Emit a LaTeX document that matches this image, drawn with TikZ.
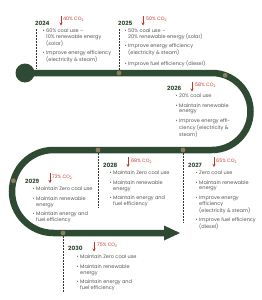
\documentclass[tikz,border=0pt]{standalone}
\usepackage{fontspec}
\setmainfont{Poppins}
\usetikzlibrary{arrows.meta, positioning, calc}
\definecolor{cRoad}{RGB}{46, 74, 50}
\definecolor{cDot}{RGB}{140, 124, 88}
\definecolor{cDrop}{RGB}{192, 57, 43}
\definecolor{tGray}{RGB}{85, 85, 85}
\newcommand{\bul}{\llap{\textbullet\hspace{1.4pt}}}

\begin{document}
\begin{tikzpicture}[
    x=1pt, y=-1pt,
    road/.style={draw=cRoad, line width=6.5pt},
    milestone/.style={circle, fill=cDot, inner sep=0pt, minimum size=4.8pt},
    leader/.style={draw=black!80, line width=0.8pt, dash pattern=on 1.6pt off 1.4pt},
    yearlbl/.style={anchor=west, inner sep=0pt, text=cRoad, font=\bfseries\fontsize{5.8}{6}\selectfont},
    co2/.style={anchor=west, inner sep=0pt, text=cDrop, font=\fontsize{4.8}{5}\selectfont},
    drop/.style={-{Stealth[length=3pt, width=3pt]}, draw=cDrop, line width=0.8pt},
    bullets/.style={anchor=north west, inner sep=0pt, align=left, text=tGray, font=\fontsize{5}{5.8}\selectfont}
]
\useasboundingbox (0,0) rectangle (262,300);

% the road
\node[circle, fill=cRoad, minimum size=19pt, inner sep=0pt] (start) at (25,73) {};
\coordinate (turnR) at (212,73);
\coordinate (turnL) at (53.5,150);
\coordinate (tail) at (165,233);
\coordinate (tip) at (180,233);
\draw[road] (start.center) -- (turnR)
    arc[start angle=-90, end angle=90, radius=38.5] -- (turnL)
    arc[start angle=270, end angle=90, radius=41.5] -- (tail);
\fill[cRoad] ($(tail)+(-1,-7.5)$) -- (tip) -- ($(tail)+(-1,7.5)$) -- cycle;

% leaders and milestones
\coordinate (l24a) at (36,29);
\coordinate (l24b) at (36,69);
\coordinate (l25) at (119,29);
\coordinate (l27) at (183,223);
\coordinate (l28) at (98,208);
\coordinate (l30) at (63,292);
\draw[leader] (l24a) -- (l24b);
\draw[leader] (l25) -- (119,73);
\draw[leader] (183,150) -- (l27);
\draw[leader] (98,150) -- (l28);
\draw[leader] (63,233) -- (l30);

\node[milestone] (m25) at (119,73) {};
\node[milestone] (m26) at ($(212,111.5)+(-70:38.5)$) {};
\node[milestone] (m27) at (183,150) {};
\node[milestone] (m28) at (98,150) {};
\node[milestone] (m29) at ($(53.5,191.5)+(195:41.5)$) {};
\node[milestone] (m30) at (63,233) {};

% 2024
\node[yearlbl] (y24) at (35,23) {2024};
\coordinate (a24) at (61,15.5);
\coordinate (b24) at (61,25.5);
\draw[drop] (a24) -- (b24);
\node[co2] (c24) at (63,19) {40\% CO\textsubscript{2}};
\node[bullets] (t24) at (46,28.6) {\bul 60\% coal use --\\10\% renewable energy\\(solar)\\[3.8pt]
    \bul Improve energy efficiency\\(electricity \& steam)};

% 2025
\node[yearlbl] (y25) at (118,23) {2025};
\coordinate (a25) at (143,15.5);
\coordinate (b25) at (143,25.5);
\draw[drop] (a25) -- (b25);
\node[co2] (c25) at (146,19) {50\% CO\textsubscript{2}};
\node[bullets] (t25) at (128,28.6) {\bul 50\% coal use --\\20\% renewable energy (solar)\\[3.8pt]
    \bul Improve energy efficiency\\(electricity \& steam)\\[3.8pt]
    \bul Improve fuel efficiency (diesel)};

% 2026
\node[yearlbl] (y26) at (167,88) {2026};
\coordinate (a26) at (192,81.5);
\coordinate (b26) at (192,91.5);
\draw[drop] (a26) -- (b26);
\node[co2] (c26) at (195,85) {58\% CO\textsubscript{2}};
\node[bullets] (t26) at (179,93.6) {\bul 20\% coal use\\[3.8pt]
    \bul Maintain renewable\\energy\\[3.8pt]
    \bul Improve energy effi-\\ciency (electricity \&\\steam)};

% 2027
\node[yearlbl] (y27) at (188,165) {2027};
\coordinate (a27) at (214,157);
\coordinate (b27) at (214,167);
\draw[drop] (a27) -- (b27);
\node[co2] (c27) at (216,161) {65\% CO\textsubscript{2}};
\node[bullets] (t27) at (199,170.6) {\bul Zero coal use\\[3.8pt]
    \bul Maintain renewable\\energy\\[3.8pt]
    \bul Improve energy\\efficiency\\(electricity \& steam)\\[3.8pt]
    \bul Improve fuel efficiency\\(diesel)};

% 2028
\node[yearlbl] (y28) at (103,165) {2028};
\coordinate (a28) at (128,157);
\coordinate (b28) at (128,167);
\draw[drop] (a28) -- (b28);
\node[co2] (c28) at (131,161) {68\% CO\textsubscript{2}};
\node[bullets] (t28) at (113,170.6) {\bul Maintain Zero coal use\\[3.8pt]
    \bul Maintain renewable\\energy\\[3.8pt]
    \bul Maintain energy and\\fuel efficiency};

% 2029
\node[yearlbl] (y29) at (25,181) {2029};
\coordinate (a29) at (50,173);
\coordinate (b29) at (50,183);
\draw[drop] (a29) -- (b29);
\node[co2] (c29) at (52,177) {72\% CO\textsubscript{2}};
\node[bullets] (t29) at (36,186.6) {\bul Maintain Zero coal use\\[3.8pt]
    \bul Maintain renewable\\energy\\[3.8pt]
    \bul Maintain energy and\\fuel efficiency};

% 2030
\node[yearlbl] (y30) at (68,248) {2030};
\coordinate (a30) at (94,242);
\coordinate (b30) at (94,251.5);
\draw[drop] (a30) -- (b30);
\node[co2] (c30) at (97,245) {75\% CO\textsubscript{2}};
\node[bullets] (t30) at (80,254.6) {\bul Maintain Zero coal use\\[3.8pt]
    \bul Maintain renewable\\energy\\[3.8pt]
    \bul Maintain energy and\\fuel efficiency};

\end{tikzpicture}
\end{document}
